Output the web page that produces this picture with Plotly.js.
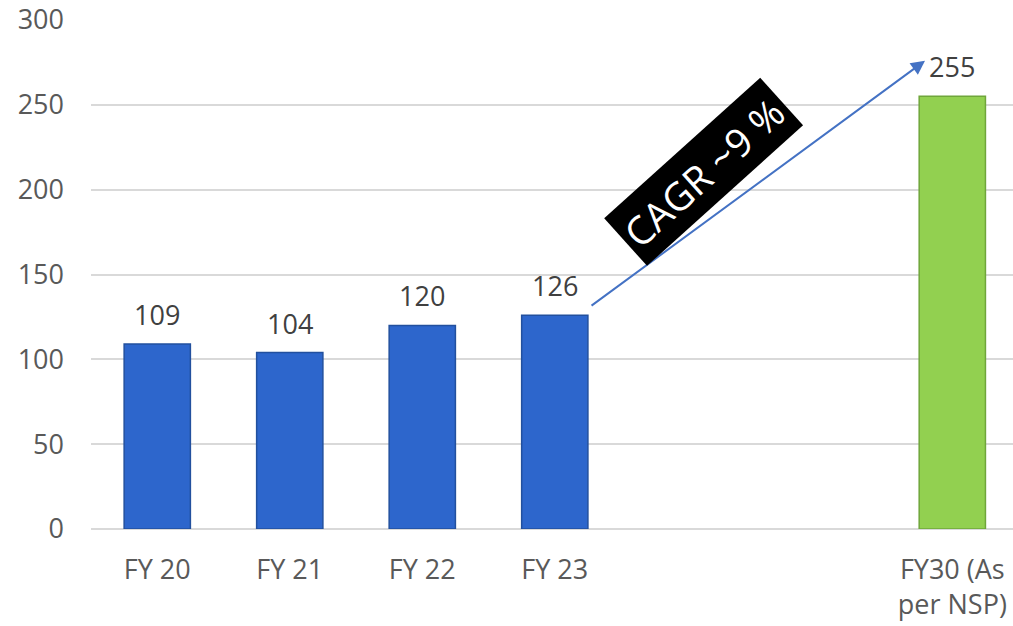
<!DOCTYPE html>
<html>
<head>
<meta charset="utf-8">
<script src="https://cdn.plot.ly/plotly-3.0.1.min.js"></script>
<style>html,body{margin:0;padding:0;background:#fff;}#chart{width:1013px;height:626px;}</style>
</head>
<body>
<div id="chart"></div>
<script>
// Categories (with two empty slots before FY30)
var slots = ['FY 20', 'FY 21', 'FY 22', 'FY 23', ' ', '  ', 'FY30 (As<br>per NSP)'];
var categories = ['FY 20', 'FY 21', 'FY 22', 'FY 23', 'FY30 (As<br>per NSP)'];
var values = [109, 104, 120, 126, 255];
var barColors = ['#2d66cc', '#2d66cc', '#2d66cc', '#2d66cc', '#92d050'];
var lineColors = ['#22509e', '#22509e', '#22509e', '#22509e', '#6fa63a'];
var yTicks = [0, 50, 100, 150, 200, 250, 300];
var cagrText = 'CAGR ~9 %';
// arrow endpoints (slot index, value)
var arrowFrom = [3.266, 131];
var arrowTo = [5.794, 276];
var labelAt = [4.126, 210.7];

var font = 'Open Sans, Noto Sans, sans-serif';

var trace = {
  type: 'bar',
  x: categories,
  y: values,
  width: 0.5,
  marker: {color: barColors, line: {color: lineColors, width: 1.5}},
  cliponaxis: false,
  hoverinfo: 'skip'
};

var annotations = categories.map(function (c, i) {
  return {
    x: c, y: values[i], xref: 'x', yref: 'y',
    text: String(values[i]), showarrow: false,
    yanchor: 'bottom', yshift: 9,
    font: {family: font, size: 27, color: '#404040'}
  };
});

annotations.push({
  x: arrowTo[0], y: arrowTo[1], xref: 'x', yref: 'y',
  ax: arrowFrom[0], ay: arrowFrom[1], axref: 'x', ayref: 'y',
  text: '', showarrow: true, arrowhead: 2, arrowsize: 1.4,
  arrowwidth: 2, arrowcolor: '#4472c4', standoff: 0
});
annotations.push({
  x: labelAt[0], y: labelAt[1], xref: 'x', yref: 'y',
  text: cagrText, showarrow: false, textangle: -42,
  bgcolor: '#000000', borderpad: 5,
  font: {family: font, size: 39, color: '#ffffff'}
});

var layout = {
  width: 1013, height: 626,
  margin: {l: 91, r: 0, t: 20, b: 97},
  paper_bgcolor: '#ffffff', plot_bgcolor: '#ffffff',
  showlegend: false,
  xaxis: {
    type: 'category',
    categoryorder: 'array',
    categoryarray: slots,
    range: [-0.5, 6.458],
    showgrid: false, zeroline: false,
    showline: false, ticks: '',
    tickfont: {family: font, size: 27, color: '#595959'},
    ticklabelstandoff: 22,
    fixedrange: true
  },
  yaxis: {
    range: [0, 300],
    tickvals: yTicks,
    ticktext: yTicks.map(String),
    showgrid: true, gridcolor: '#d9d9d9', gridwidth: 2,
    zeroline: true, zerolinecolor: '#d9d9d9', zerolinewidth: 2,
    showline: false, ticks: '',
    tickfont: {family: font, size: 27, color: '#595959'},
    ticklabelstandoff: 26,
    fixedrange: true
  },
  annotations: annotations
};

Plotly.newPlot('chart', [trace], layout, {displayModeBar: false, staticPlot: true});
</script>
</body>
</html>
